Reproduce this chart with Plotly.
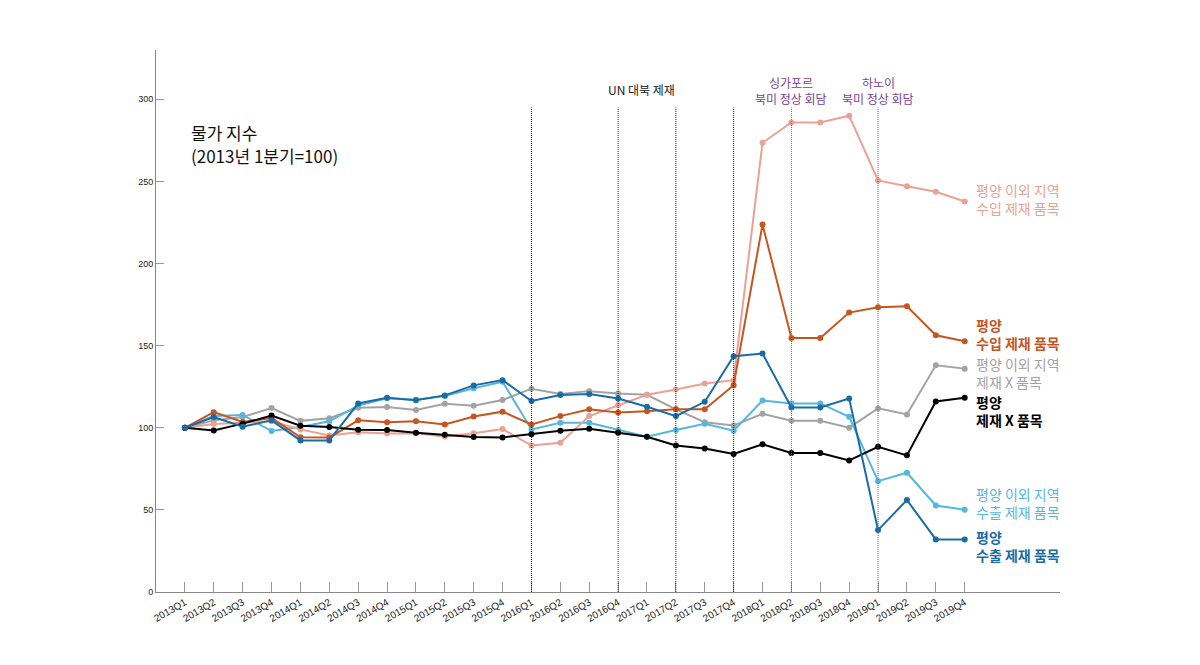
import plotly.graph_objects as go

quarters = [f"{y}Q{q}" for y in range(2013, 2020) for q in range(1, 5)]

black_pyongyang_nonsanction = [100, 98.3, 102.5, 107.5, 101.2, 100.5, 98.8, 98.6, 97.0, 95.7, 94.3, 94.1,
                               96.1, 98.2, 99.4, 97.0, 94.5, 89.2, 87.4, 84.0, 89.9, 84.6, 84.6, 80.1,
                               88.4, 83.2, 116.0, 118.3]
gray_other_nonsanction = [100, 104.5, 106.5, 112.0, 104.2, 105.8, 112.2, 112.6, 110.8, 114.6, 113.4, 116.9,
                          123.8, 120.5, 122.3, 120.9, 120.1, 111.2, 103.4, 101.4, 108.5, 104.3, 104.3, 100.0,
                          111.8, 108.1, 138.0, 136.0]
orange_pyongyang_import = [100, 109.5, 103.5, 106.0, 94.2, 94.0, 104.5, 103.3, 104.0, 102.0, 106.9, 109.8,
                           102.0, 107.1, 111.2, 109.3, 110.1, 111.2, 111.2, 125.9, 223.8, 154.7, 154.7, 170.1,
                           173.4, 174.0, 156.3, 152.7]
pink_other_import = [100, 102.3, 103.0, 104.0, 99.0, 95.3, 97.3, 96.5, 96.7, 94.7, 96.7, 99.2,
                     89.2, 90.9, 107.1, 113.8, 120.1, 123.3, 127.0, 129.0, 273.5, 285.9, 285.9, 290.0,
                     250.6, 247.0, 243.7, 237.8]
lightblue_other_export = [100, 107.2, 107.8, 98.0, 100.5, 104.0, 113.5, 118.0, 117.0, 119.3, 124.0, 128.0,
                          99.0, 103.0, 103.0, 98.6, 94.5, 98.6, 102.4, 98.2, 116.6, 114.8, 114.8, 106.7,
                          67.5, 72.6, 52.7, 50.1]
darkblue_pyongyang_export = [100, 106.5, 100.6, 104.5, 92.3, 92.3, 114.8, 118.3, 116.7, 119.7, 125.8, 129.0,
                             116.3, 119.9, 120.5, 117.8, 112.8, 107.1, 115.8, 143.6, 145.2, 112.4, 112.4, 117.8,
                             37.7, 56.0, 32.0, 32.0]

series_names = ["평양 이외 지역<br>수입 제재 품목", "평양<br>수입 제재 품목", "평양 이외 지역<br>제재 X 품목",
                "평양<br>제재 X 품목", "평양 이외 지역<br>수출 제재 품목", "평양<br>수출 제재 품목"]
series_values = [pink_other_import, orange_pyongyang_import, gray_other_nonsanction,
                 black_pyongyang_nonsanction, lightblue_other_export, darkblue_pyongyang_export]
series_colors = ["#e9a293", "#c5561f", "#a3a3a3", "#000000", "#55b7de", "#1a6ca6"]
series_bold = [False, True, False, True, False, True]
label_y = [239, 156.8, 133.2, 110, 54, 28]

sanction_quarters = ["2016Q1", "2016Q4", "2017Q2", "2017Q4"]
summit_quarters = ["2018Q2", "2019Q1"]
title_lines = ["물가 지수", "(2013년 1분기=100)"]

x_idx = list(range(len(quarters)))
font_kr = "Noto Sans CJK KR, Noto Sans, sans-serif"

fig = go.Figure()
order = [2, 4, 0, 1, 3, 5]
for k in order:
    fig.add_trace(go.Scatter(
        x=x_idx, y=series_values[k], mode="lines+markers",
        line=dict(color=series_colors[k], width=2),
        marker=dict(color=series_colors[k], size=6),
        showlegend=False, hoverinfo="skip"))

for k in range(len(series_names)):
    txt = series_names[k]
    if series_bold[k]:
        txt = "<b>" + txt + "</b>"
    fig.add_annotation(x=x_idx[-1], y=label_y[k], xref="x", yref="y", text=txt,
                       showarrow=False, xanchor="left", yanchor="middle", xshift=9, align="left",
                       font=dict(family=font_kr, size=14, color=series_colors[k]))

for q in sanction_quarters:
    i = quarters.index(q)
    fig.add_shape(type="line", x0=i, x1=i, y0=0, y1=295, xref="x", yref="y",
                  line=dict(color="#222222", width=1, dash="1px,1px"))
for q in summit_quarters:
    i = quarters.index(q)
    fig.add_shape(type="line", x0=i, x1=i, y0=0, y1=295, xref="x", yref="y",
                  line=dict(color="#8a4fa0", width=1, dash="1px,1px"))

fig.add_annotation(x=quarters.index("2016Q4") + 0.8, y=306, xref="x", yref="y", text="UN 대북 제재",
                   showarrow=False, font=dict(family=font_kr, size=12, color="#222222"))
for q, place in zip(summit_quarters, ["싱가포르", "하노이"]):
    fig.add_annotation(x=quarters.index(q), y=310, xref="x", yref="y", text=place,
                       showarrow=False, font=dict(family=font_kr, size=12, color="#7b3f93"))
    fig.add_annotation(x=quarters.index(q), y=300.3, xref="x", yref="y", text="북미 정상 회담",
                       showarrow=False, font=dict(family=font_kr, size=12, color="#7b3f93"))

fig.add_annotation(x=0.15, y=280, xref="x", yref="y", text=title_lines[0],
                   showarrow=False, xanchor="left", yanchor="middle", align="left",
                   font=dict(family=font_kr, size=17, color="#111111"))
fig.add_annotation(x=0.15, y=265.5, xref="x", yref="y", text=title_lines[1],
                   showarrow=False, xanchor="left", yanchor="middle", align="left",
                   font=dict(family=font_kr, size=17, color="#111111"))

fig.update_layout(
    width=1200, height=665, paper_bgcolor="white", plot_bgcolor="white",
    margin=dict(l=148, r=148, t=42, b=81, autoexpand=False),
    xaxis=dict(range=[-1, 30.3], tickmode="array", tickvals=x_idx, ticktext=quarters,
               tickangle=-30, ticks="inside", ticklen=10, tickcolor="#999999", automargin=False,
               showline=True, linecolor="#888888", linewidth=1, showgrid=False, zeroline=False,
               tickfont=dict(family="Liberation Sans, Arial, sans-serif", size=10, color="#222222")),
    yaxis=dict(range=[0, 330], tickvals=[0, 50, 100, 150, 200, 250, 300], automargin=False,
               ticks="inside", ticklen=8, tickcolor="#999999",
               showline=True, linecolor="#888888", linewidth=1, showgrid=False, zeroline=False,
               tickfont=dict(family="Liberation Sans, Arial, sans-serif", size=9, color="#222222")),
)

fig.write_html("out.html")
